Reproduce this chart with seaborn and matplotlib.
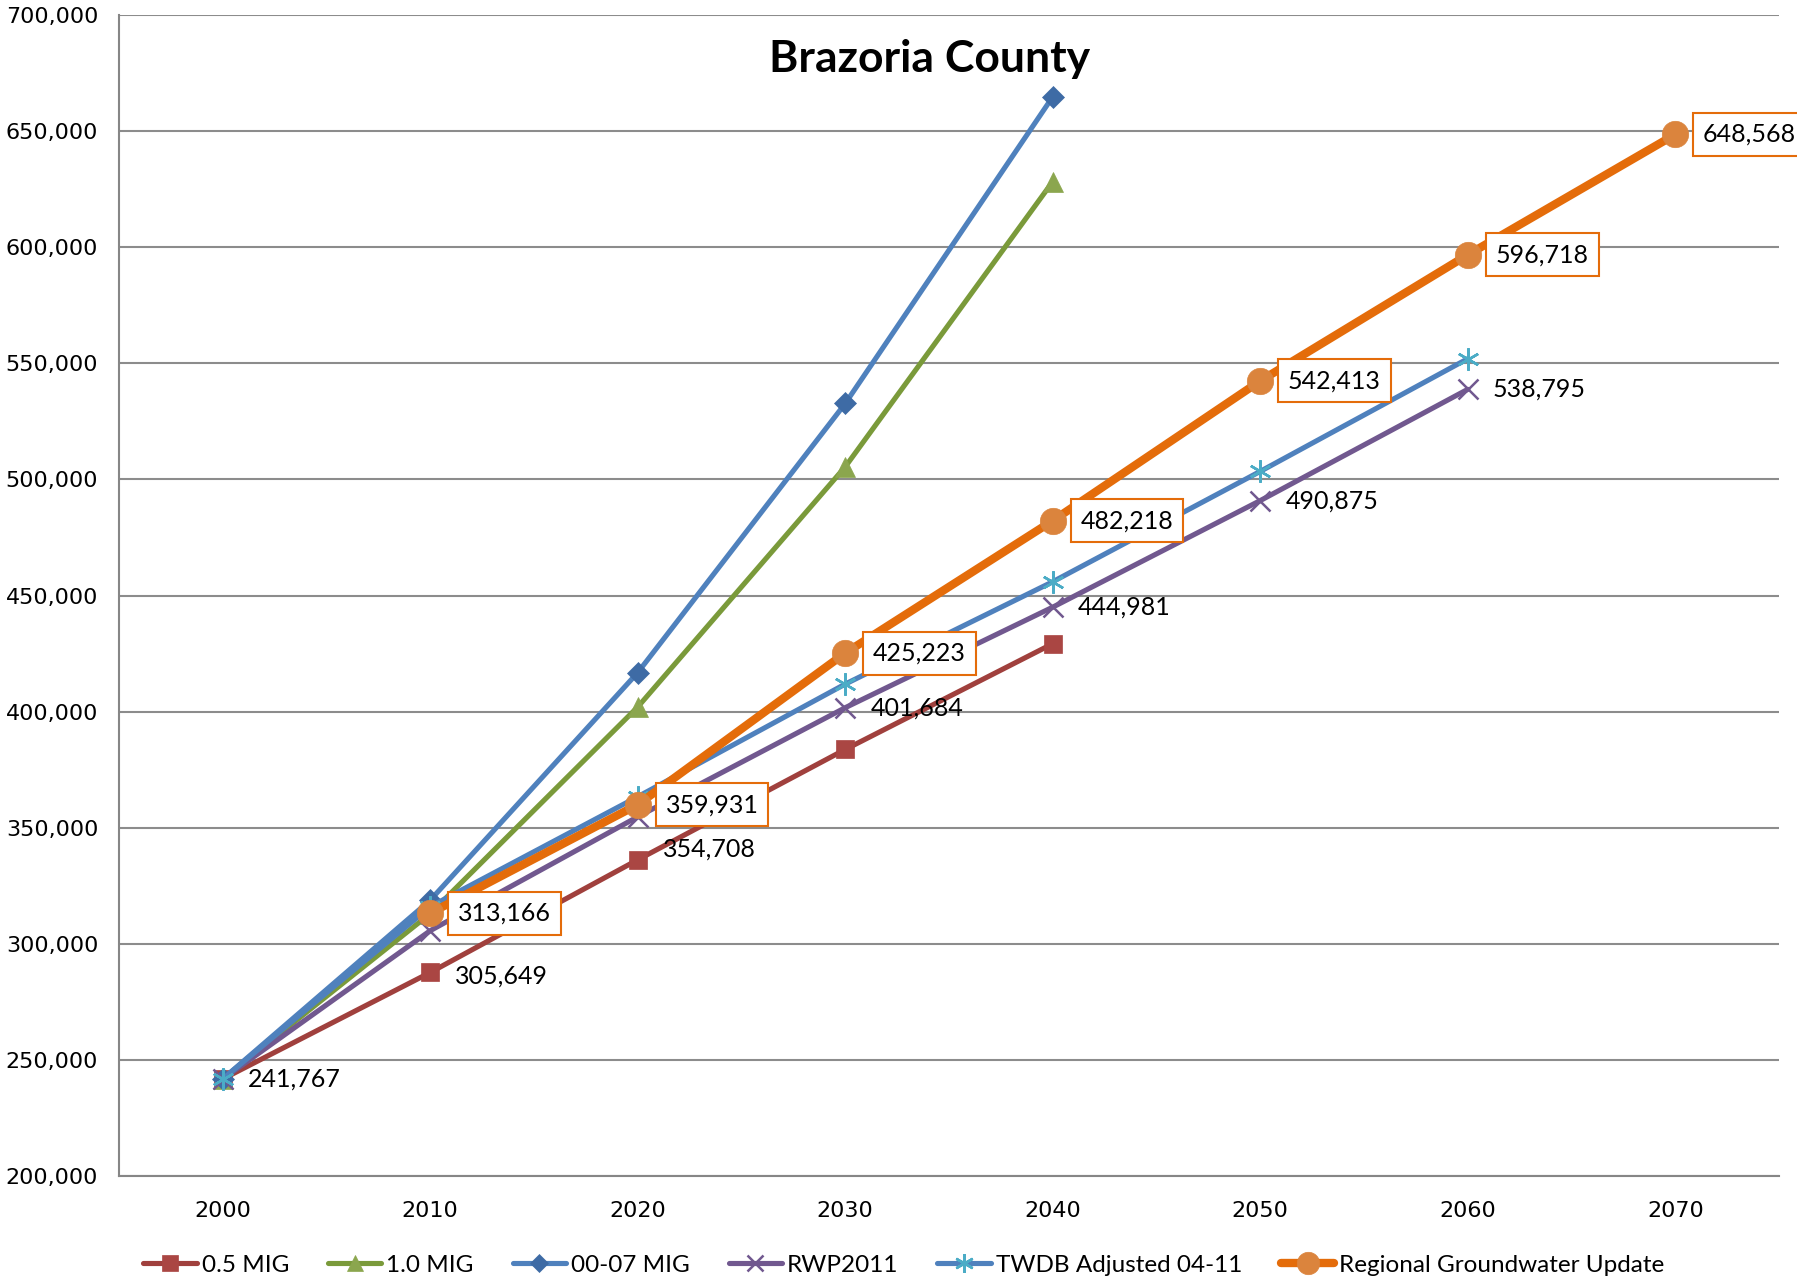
import pandas as pd
import matplotlib
matplotlib.use("Agg")
import matplotlib.pyplot as plt
import seaborn as sns

years = [2000, 2010, 2020, 2030, 2040, 2050, 2060, 2070]

mig_05 = [241767, 287650, 336170, 383700, 429250]
mig_10 = [241767, 313000, 401980, 505430, 628260]
mig_0007 = [241767, 318780, 416800, 532700, 664800]
rwp2011 = [241767, 305649, 354708, 401684, 444981, 490875, 538795]
twdb_adj = [241767, 316000, 363340, 411860, 455930, 503460, 551980]
regional_years = [2010, 2020, 2030, 2040, 2050, 2060, 2070]
regional = [313166, 359931, 425223, 482218, 542413, 596718, 648568]

y_ticks = list(range(200000, 700001, 50000))

sns.set_style("white")
plt.rcParams["font.family"] = ["Lato", "DejaVu Sans"]
plt.rcParams["text.color"] = "black"

fig = plt.figure(figsize=(17.97, 12.83), dpi=100)
ax = fig.add_axes([0.0662, 0.0834, 0.9238, 0.9049])

series = [
    ("0.5 MIG", years[:5], mig_05, "#A0403D", "#AA4643", "s", 13, 3.7),
    ("1.0 MIG", years[:5], mig_10, "#7A9A3A", "#8BA64E", "^", 14, 3.7),
    ("00-07 MIG", years[:5], mig_0007, "#4F81BD", "#3E6BA5", "D", 11, 3.7),
    ("RWP2011", years[:7], rwp2011, "#71588F", "#71588F", "x", 14, 3.7),
    ("TWDB Adjusted 04-11", years[:7], twdb_adj, "#4F81BD", "#4BACC6", (6, 2, 0), 16, 3.7),
    ("Regional Groundwater Update", regional_years, regional, "#E46C0A", "#DB843D", "o", 19, 6.0),
]

for name, xs, ys, lc, mc, mk, ms, lw in series:
    df = pd.DataFrame({"year": xs, "pop": ys})
    sns.lineplot(data=df, x="year", y="pop", ax=ax, color=lc, lw=lw, marker=mk,
                 markersize=ms, markerfacecolor=mc, markeredgecolor=mc,
                 markeredgewidth=1.8 if mk in ("x", (6, 2, 0)) else 0.5,
                 label=name, zorder=3 if name.startswith("Regional") else 2)

# RWP2011 labels (two nudged down to avoid overlap)
rwp_dy = [0, -33, -23, 0, 0, 0, 0]
for x, v, dy in zip(years, rwp2011, rwp_dy):
    ax.annotate(f"{v:,}", (x, v), xytext=(18, dy), textcoords="offset points",
                ha="left", va="center", fontsize=18, color="black", zorder=5)

# Regional Groundwater Update boxed labels
for x, v in zip(regional_years, regional):
    ax.annotate(f"{v:,}", (x, v), xytext=(20, 0), textcoords="offset points",
                ha="left", va="center", fontsize=18, color="black", zorder=6,
                annotation_clip=False,
                bbox=dict(boxstyle="square,pad=0.4", fc="white", ec="#E46C0A", lw=1.5))

ax.set_xlim(1995, 2075)
ax.set_ylim(200000, 700000)
ax.set_xticks(years)
ax.set_xticks([1995 + 10 * i for i in range(9)], minor=True)
ax.set_yticks(y_ticks)
ax.set_yticklabels([f"{t:,}" for t in y_ticks], fontfamily="DejaVu Sans", fontsize=16, color="black")
ax.set_xticklabels([str(y) for y in years], fontfamily="DejaVu Sans", fontsize=16, color="black")
ax.tick_params(axis="x", which="major", length=0, pad=18)
ax.tick_params(axis="x", which="minor", length=8, color="#868686", width=1.5, direction="out")
ax.tick_params(axis="y", length=9, color="#868686", width=1.5, direction="out", pad=6)
ax.set_xlabel("")
ax.set_ylabel("")
ax.grid(axis="y", color="#8C8C8C", lw=1.5)
ax.grid(axis="x", visible=False)
for side in ("top", "right"):
    ax.spines[side].set_visible(False)
for side in ("left", "bottom"):
    ax.spines[side].set_color("#868686")
    ax.spines[side].set_linewidth(1.5)

ax.text(0.488, 0.962, "Brazoria County", transform=ax.transAxes, ha="center", va="center",
        fontsize=32, fontweight="bold", color="black")

handles, labels = ax.get_legend_handles_labels()
ax.get_legend().remove()
fig.legend(handles, labels, loc="center", bbox_to_anchor=(0.503, 0.014), ncol=6,
           frameon=False, fontsize=17.5, handlelength=2.2, handletextpad=0.2,
           columnspacing=1.6, markerscale=0.85)

fig.savefig("out.png", dpi=100)
